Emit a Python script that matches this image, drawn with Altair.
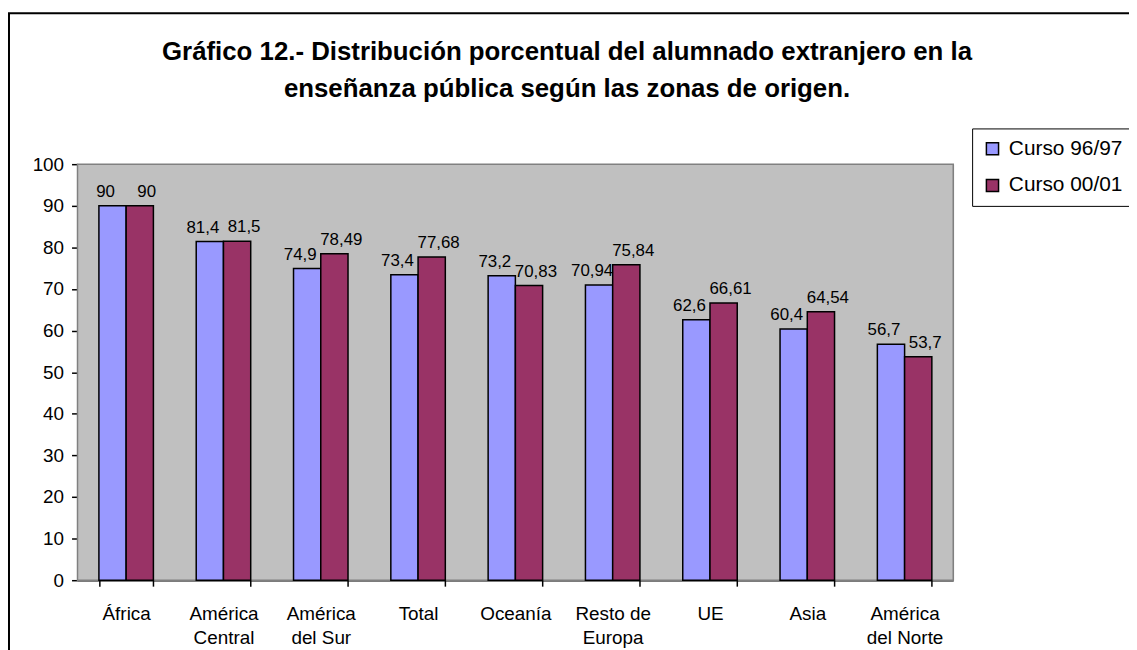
import altair as alt
import pandas as pd

zonas = ["África", "América|Central", "América|del Sur", "Total", "Oceanía",
         "Resto de|Europa", "UE", "Asia", "América|del Norte"]
series = ["Curso 96/97", "Curso 00/01"]
v9697 = [90, 81.4, 74.9, 73.4, 73.2, 70.94, 62.6, 60.4, 56.7]
v0001 = [90, 81.5, 78.49, 77.68, 70.83, 75.84, 66.61, 64.54, 53.7]
colors = ["#9999FF", "#993366"]
title_lines = ["Gráfico 12.- Distribución porcentual del alumnado extranjero en la",
               "enseñanza pública según las zonas de origen."]

rows = []
for z, a, b in zip(zonas, v9697, v0001):
    rows.append({"zona": z, "curso": series[0], "valor": a,
                 "etiqueta": ("%g" % a).replace(".", ",")})
    rows.append({"zona": z, "curso": series[1], "valor": b,
                 "etiqueta": ("%g" % b).replace(".", ",")})
df = pd.DataFrame(rows)

FONT = "Liberation Sans"
W, H = 882, 419

x = alt.X("zona:N", sort=zonas, title=None,
          scale=alt.Scale(paddingInner=0.44, paddingOuter=0.22),
          axis=alt.Axis(labelExpr="isValid(datum.value) ? split(datum.value, '|') : ''",
                        labelAngle=0,
                        tickBand="extent", tickSize=6, tickColor="black",
                        domainColor="black", domainWidth=1.5, tickWidth=1.5,
                        labelFontSize=19, labelFont=FONT, labelColor="black",
                        labelPadding=19, labelLineHeight=24, labelBaseline="top"))
xo = alt.XOffset("curso:N", sort=series, scale=alt.Scale(paddingInner=0))
y = alt.Y("valor:Q", title=None,
          scale=alt.Scale(domain=[0, 100], nice=False),
          axis=alt.Axis(values=list(range(0, 101, 10)), grid=False, tickSize=6,
                        tickColor="black", domainColor="black", domainWidth=1.5,
                        tickWidth=1.5, labelFontSize=19, labelFont=FONT,
                        labelColor="black", labelPadding=8))

base = alt.Chart(df)
one = "datum.zona == 'Total' && datum.curso == 'Curso 96/97'"

background = base.mark_rect(fill="#C0C0C0", stroke="#808080", strokeWidth=1.5).encode(
    x=alt.value(0), x2=alt.value(W), y=alt.value(0), y2=alt.value(H)
).transform_filter(one)

border = base.mark_rect(fill="transparent", stroke="black", strokeWidth=2).encode(
    x=alt.value(-69), x2=alt.value(1300), y=alt.value(-152), y2=alt.value(900)
).transform_filter(one)

bars = base.mark_bar(stroke="black", strokeWidth=1.5).encode(
    x=x, xOffset=xo, y=y,
    color=alt.Color("curso:N", sort=series,
                    scale=alt.Scale(domain=series, range=colors),
                    legend=alt.Legend(title=None, orient="none", legendX=901,
                                      legendY=-36, symbolType="square",
                                      symbolSize=150, symbolStrokeColor="black",
                                      symbolStrokeWidth=1.5, labelFontSize=21,
                                      labelFont=FONT, labelColor="black",
                                      strokeColor="black", fillColor="white",
                                      padding=10, rowPadding=15, labelOffset=6,
                                      labelLimit=300, symbolOpacity=1)),
)

labels_a = base.mark_text(baseline="alphabetic", dy=-9, dx=-7, fontSize=17, font=FONT,
                          color="black").encode(
    x=x, xOffset=xo, y=y, text="etiqueta:N"
).transform_filter(alt.datum.curso == series[0])
labels_b = base.mark_text(baseline="alphabetic", dy=-9, dx=7, fontSize=17, font=FONT,
                          color="black").encode(
    x=x, xOffset=xo, y=y, text="etiqueta:N"
).transform_filter(alt.datum.curso == series[1])

t1 = alt.Chart(pd.DataFrame({"t": [title_lines[0]]})).mark_text(
    fontSize=26, font=FONT, fontWeight="bold", color="black",
    align="center", baseline="alphabetic").encode(
    x=alt.value(493), y=alt.value(-105), text="t:N")
t2 = alt.Chart(pd.DataFrame({"t": [title_lines[1]]})).mark_text(
    fontSize=26, font=FONT, fontWeight="bold", color="black",
    align="center", baseline="alphabetic").encode(
    x=alt.value(493), y=alt.value(-68), text="t:N")

chart = alt.layer(background, bars, labels_a, labels_b, border, t1, t2).properties(
    width=W, height=H,
    autosize=alt.AutoSizeParams(type="none"),
    padding={"left": 70, "top": 155, "right": 177, "bottom": 68},
).configure_view(strokeWidth=0).configure(background="white")

chart.save("out.html", embed_options={"renderer": "svg", "actions": False})
